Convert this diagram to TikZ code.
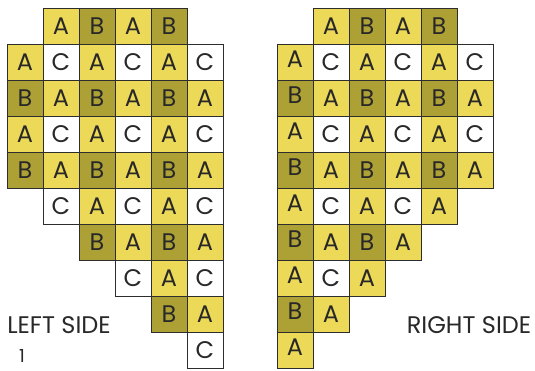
\documentclass[tikz,border=0pt]{standalone}
\usepackage{fontspec}
\setmainfont{Poppins}
\definecolor{colA}{RGB}{237,217,88}
\definecolor{colB}{RGB}{173,160,53}
\definecolor{colC}{RGB}{255,255,255}
\definecolor{edge}{RGB}{45,45,45}
\definecolor{ink}{RGB}{40,40,40}
\begin{document}
\begin{tikzpicture}[x=1pt,y=-1pt,
  cell/.style={draw=edge,line width=0.9pt,fill=col#1,minimum size=36pt,inner sep=0pt,
    text=ink,font=\fontsize{24}{28}\selectfont},
  side/.style={text=ink,font=\fontsize{24}{28}\selectfont,inner sep=0pt}]
\useasboundingbox (0,0) rectangle (535,370);
% left side
\foreach \r/\s/\letters in {0/1/{A,B,A,B},1/0/{A,C,A,C,A,C},2/0/{B,A,B,A,B,A},3/0/{A,C,A,C,A,C},
  4/0/{B,A,B,A,B,A},5/1/{C,A,C,A,C},6/2/{B,A,B,A},7/3/{C,A,C},8/4/{B,A},9/5/{C}}{
  \foreach \l [count=\i] in \letters {
    \pgfmathtruncatemacro\c{\s+\i-1}
    \node[cell=\l] (L-\r-\c) at (7+36*\c+18,8+36*\r+18) {\l};
  }
}
% right side
\foreach \r/\s/\letters in {0/1/{A,B,A,B},1/0/{A,C,A,C,A,C},2/0/{B,A,B,A,B,A},3/0/{A,C,A,C,A,C},
  4/0/{B,A,B,A,B,A},5/0/{A,C,A,C,A},6/0/{B,A,B,A},7/0/{A,C,A},8/0/{B,A},9/0/{A}}{
  \foreach \l [count=\i] in \letters {
    \pgfmathtruncatemacro\c{\s+\i-1}
    \ifnum\c=0
      \node[cell=\l] (R-\r-\c) at (277+36*\c+18,8+36*\r+18) {\raisebox{5pt}{\l}};
    \else
      \node[cell=\l] (R-\r-\c) at (277+36*\c+18,8+36*\r+18) {\l};
    \fi
  }
}
\node[side] (leftlbl) at (59,325) {LEFT SIDE};
\node[side] (rightlbl) at (469,325) {RIGHT SIDE};
\node[side,font=\fontsize{18}{20}\selectfont,anchor=north west] (fig) at (19,349) {1};
\end{tikzpicture}
\end{document}
